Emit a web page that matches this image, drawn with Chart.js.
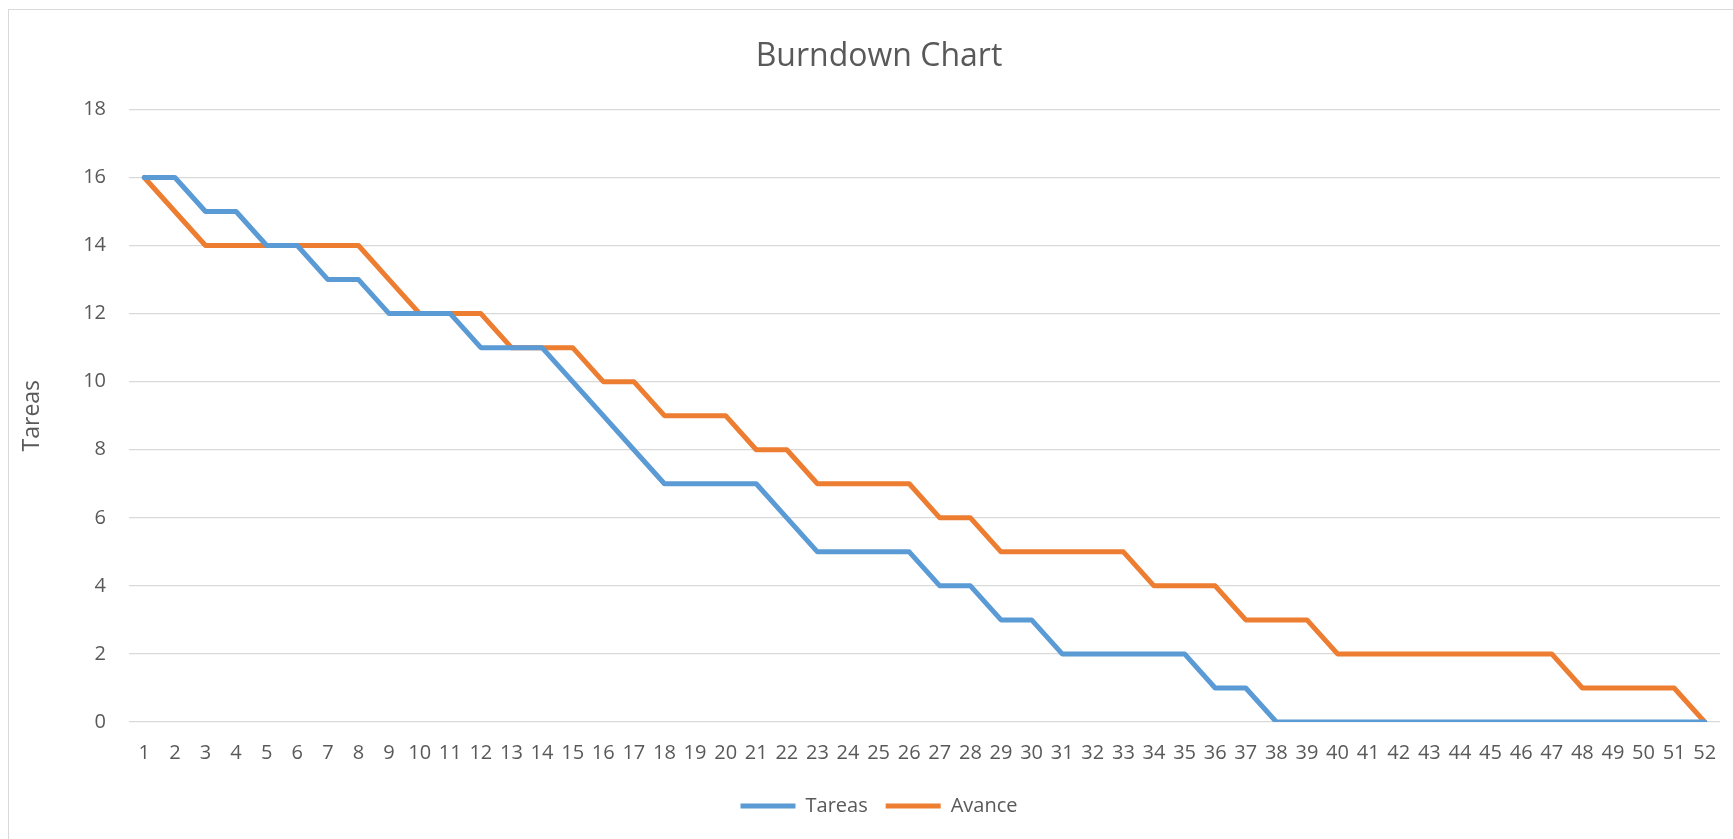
<!DOCTYPE html>
<html>
<head>
<meta charset="utf-8">
<script src="https://cdn.jsdelivr.net/npm/chart.js@4"></script>
<style>
  html, body { margin: 0; padding: 0; background: #fff; overflow: hidden; }
  #frame { position: absolute; left: 8px; top: 9px; width: 1740px; height: 860px; border: 1px solid #d9d9d9; }
  #frame canvas { position: absolute; left: 0; top: 0; }
</style>
</head>
<body>
<div id="frame"><canvas id="burndown" width="1740" height="829"></canvas></div>
<script>
const weeks = Array.from({ length: 52 }, (_, i) => String(i + 1));

const tareas = [16, 16, 15, 15, 14, 14, 13, 13, 12, 12, 12, 11, 11, 11, 10, 9, 8, 7, 7, 7,
  7, 6, 5, 5, 5, 5, 4, 4, 3, 3, 2, 2, 2, 2, 2, 1, 1, 0, 0, 0,
  0, 0, 0, 0, 0, 0, 0, 0, 0, 0, 0, 0];

const avance = [16, 15, 14, 14, 14, 14, 14, 14, 13, 12, 12, 12, 11, 11, 11, 10, 10, 9, 9, 9,
  8, 8, 7, 7, 7, 7, 6, 6, 5, 5, 5, 5, 5, 4, 4, 4, 3, 3, 3, 2,
  2, 2, 2, 2, 2, 2, 2, 1, 1, 1, 1, 0];

const yMin = 0, yMax = 18, yStep = 2;

const textColor = '#595959';
const fontFamily = '"Open Sans", "Liberation Sans", sans-serif';

const ctx = document.getElementById('burndown').getContext('2d');
new Chart(ctx, {
  type: 'line',
  data: {
    labels: weeks,
    datasets: [
      { label: 'Tareas', data: tareas, borderColor: '#5b9bd5', backgroundColor: '#5b9bd5', borderWidth: 5, pointRadius: 0, tension: 0, borderJoinStyle: 'round', borderCapStyle: 'round' },
      { label: 'Avance', data: avance, borderColor: '#ed7d31', backgroundColor: '#ed7d31', borderWidth: 5, pointRadius: 0, tension: 0, borderJoinStyle: 'round', borderCapStyle: 'round' }
    ]
  },
  options: {
    responsive: false,
    animation: false,
    layout: { padding: { left: 0, right: 0, top: 0, bottom: 13 } },
    scales: {
      x: {
        offset: true,
        grid: { display: false, drawTicks: false },
        border: { display: false },
        ticks: { autoSkip: false, maxRotation: 0, padding: 19, color: textColor, font: { family: fontFamily, size: 20 } },
        afterFit: (scale) => { scale.height = 56; }
      },
      y: {
        min: yMin,
        max: yMax,
        grid: { color: '#d9d9d9', lineWidth: 1.3, drawTicks: false },
        border: { display: false },
        ticks: { stepSize: yStep, padding: 23, color: textColor, font: { family: fontFamily, size: 20 } },
        title: { display: true, text: 'Tareas', color: textColor, padding: { top: 10, bottom: 0 }, font: { family: fontFamily, size: 23 } },
        afterFit: (scale) => { scale.width = 120; }
      },
      // empty spacer on the right so the plot stops short of the frame edge
      spacer: {
        type: 'linear',
        position: 'right',
        grid: { display: false, drawTicks: false },
        border: { display: false },
        ticks: { display: false },
        afterFit: (scale) => { scale.width = 29; }
      }
    },
    plugins: {
      title: {
        display: true,
        text: 'Burndown Chart',
        color: textColor,
        padding: { top: 27.5, bottom: 33.5 },
        font: { family: fontFamily, size: 32, weight: 'normal' }
      },
      legend: {
        position: 'bottom',
        labels: {
          color: textColor,
          boxWidth: 55,
          boxHeight: 5,
          padding: 18,
          useBorderRadius: true,
          borderRadius: 2.5,
          font: { family: fontFamily, size: 20 },
          generateLabels: (chart) => chart.data.datasets.map((ds, i) => ({
            text: ds.label,
            fillStyle: ds.borderColor,
            strokeStyle: ds.borderColor,
            lineWidth: 0,
            fontColor: textColor,
            datasetIndex: i,
            hidden: false
          }))
        }
      },
      tooltip: { enabled: false }
    }
  }
});
</script>
</body>
</html>
